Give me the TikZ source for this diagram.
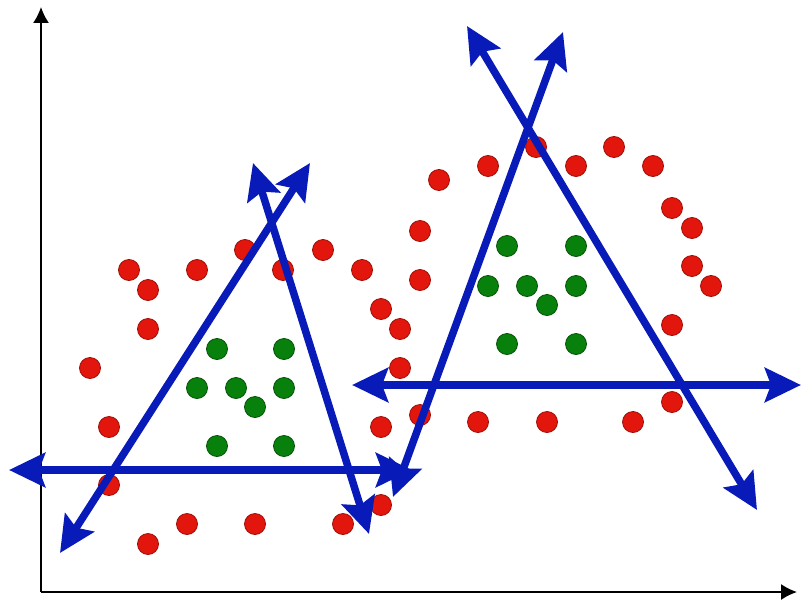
\documentclass[tikz,border=0pt]{standalone}
\usetikzlibrary{arrows.meta}
\definecolor{dotred}{RGB}{226,22,12}
\definecolor{dotgreen}{RGB}{8,128,12}
\definecolor{sepblue}{RGB}{8,26,184}
\tikzset{
  rdot/.style={circle,draw=dotred!70!black,fill=dotred,line width=0.8pt,minimum size=21pt,inner sep=0pt},
  gdot/.style={circle,draw=dotgreen!65!black,fill=dotgreen,line width=0.8pt,minimum size=21pt,inner sep=0pt},
  sepline/.style={{Stealth[length=36pt,width=34pt,inset=6pt]}-{Stealth[length=36pt,width=34pt,inset=6pt]},line width=7.5pt,draw=sepblue},
  axis/.style={-{Latex[length=16pt,width=16pt]},line width=1.6pt}
}

\begin{document}
\begin{tikzpicture}[x=1pt,y=-1pt]
\useasboundingbox (0,0) rectangle (802,602);
% axes
\coordinate (O) at (41,592);
\coordinate (ytop) at (41,7);
\coordinate (xend) at (797,592);
\draw[axis] (O) -- (ytop);
\draw[axis] (O) -- (xend);
% left cluster
\foreach \x/\y [count=\i] in {129/270,197/270,245/250,283/270,323/250,362/270,148/290,148/329,90/368,381/309,400/329,400/368,109/427,381/427,109/485,381/505,148/544,187/524,255/524,343/524} {
  \node[rdot] (rl\i) at (\x,\y) {};
}
\foreach \x/\y [count=\i] in {217/349,284/349,197/388,236/388,284/388,255/407,217/446,284/446} {
  \node[gdot] (gl\i) at (\x,\y) {};
}
% right cluster
\foreach \x/\y [count=\i] in {536/147,614/147,488/166,576/166,653/166,439/180,672/208,692/228,420/231,420/280,692/266,711/286,672/325,672/402,420/415,478/422,547/422,633/422} {
  \node[rdot] (rr\i) at (\x,\y) {};
}
\foreach \x/\y [count=\i] in {507/246,576/246,488/286,527/286,576/286,547/305,507/344,576/344} {
  \node[gdot] (gr\i) at (\x,\y) {};
}
% separating lines
\coordinate (A1) at (9,470);
\coordinate (A2) at (412,470);
\coordinate (B1) at (60,553);
\coordinate (B2) at (310,163);
\coordinate (C1) at (253,163);
\coordinate (C2) at (369,534);
\draw[sepline] (A1) -- (A2);
\draw[sepline] (B1) -- (B2);
\draw[sepline] (C1) -- (C2);
\coordinate (D1) at (352,385);
\coordinate (D2) at (801,385);
\coordinate (E1) at (393,497);
\coordinate (E2) at (563,32);
\coordinate (F1) at (467,26);
\coordinate (F2) at (757,510);
\draw[sepline] (D1) -- (D2);
\draw[sepline] (E1) -- (E2);
\draw[sepline] (F1) -- (F2);
\end{tikzpicture}
\end{document}
